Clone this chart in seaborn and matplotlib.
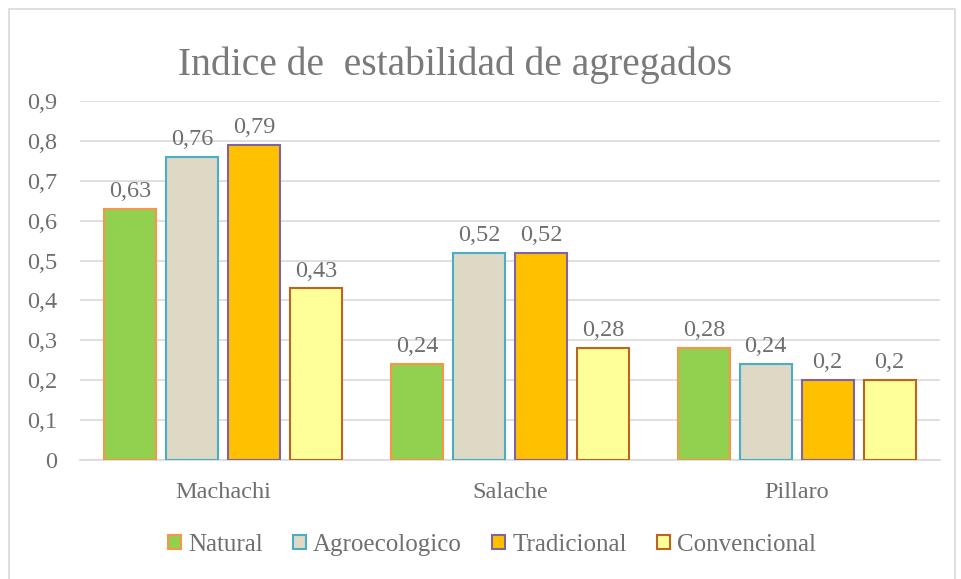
import matplotlib
matplotlib.use("Agg")
import matplotlib.pyplot as plt
import matplotlib.ticker as mticker
from matplotlib.patches import Rectangle
import seaborn as sns
import pandas as pd

sites = ["Machachi", "Salache", "Pillaro"]
systems = ["Natural", "Agroecologico", "Tradicional", "Convencional"]
natural = [0.63, 0.24, 0.28]
agroecologico = [0.76, 0.52, 0.24]
tradicional = [0.79, 0.52, 0.20]
convencional = [0.43, 0.28, 0.20]
y_ticks = [0, 0.1, 0.2, 0.3, 0.4, 0.5, 0.6, 0.7, 0.8, 0.9]
title = "Indice de  estabilidad de agregados"

fills = ["#92D050", "#DDD9C4", "#FFC000", "#FFFF99"]
edges = ["#F79646", "#4BACC6", "#8064A2", "#C0631C"]

rows = []
for sysname, vals in zip(systems, [natural, agroecologico, tradicional, convencional]):
    for s, v in zip(sites, vals):
        rows.append({"site": s, "system": sysname, "value": v})
df = pd.DataFrame(rows)

sns.set_theme(style="white")
plt.rcParams["font.family"] = ["Liberation Serif", "DejaVu Serif"]
grey = "#6F6F6F"

fig = plt.figure(figsize=(9.62, 5.79), dpi=100)
ax = fig.add_axes([80/962, 1-460/579, 860/962, 359/579])

sns.barplot(data=df, x="site", y="value", hue="system", order=sites,
            hue_order=systems, palette=fills, saturation=1, width=0.864, gap=0.16,
            ax=ax, legend=True, errorbar=None, zorder=3)

for cont, ec in zip(ax.containers, edges):
    for p in cont:
        p.set_edgecolor(ec)
        p.set_linewidth(1.5)
    ax.bar_label(cont, labels=[f"{v:g}".replace(".", ",") for v in cont.datavalues],
                 padding=5, color=grey, fontsize=17.5)

ax.set_ylim(0, 0.9)
ax.set_xlim(-0.5, 2.5)
ax.set_yticks(y_ticks)
ax.yaxis.set_major_formatter(mticker.FuncFormatter(lambda v, p: f"{v:g}".replace(".", ",")))
ax.grid(axis="y", color="#D9D9D9", linewidth=1.2, zorder=0)
ax.set_axisbelow(True)
for sp in ["top", "right", "left"]:
    ax.spines[sp].set_visible(False)
ax.spines["bottom"].set_color("#D9D9D9")
ax.spines["bottom"].set_linewidth(1.2)
ax.tick_params(axis="both", length=0, colors=grey, labelsize=17.5)
ax.tick_params(axis="y", pad=16.5)
ax.tick_params(axis="x", pad=16)
ax.set_xlabel("")
ax.set_ylabel("")

handles, labels = ax.get_legend_handles_labels()
ax.get_legend().remove()
for h, ec in zip(handles, edges):
    h.set_edgecolor(ec)
    h.set_linewidth(1.5)
leg = fig.legend(handles, labels, loc="center", bbox_to_anchor=(492/962, 1-545/579),
                 ncol=4, frameon=False, fontsize=18, handlelength=0.52, handleheight=0.52,
                 handletextpad=0.28, columnspacing=1.2, labelcolor=grey)

fig.text(455/962, 1-75/579, title, ha="center", va="baseline", fontsize=28.5, color="#7A7A7A")

fig.patches.append(Rectangle((9/962, -0.02), 946/962, 1-9/579+0.02, transform=fig.transFigure,
                             fill=False, edgecolor="#D9D9D9", linewidth=1.2))

fig.savefig("out.png", dpi=100)
